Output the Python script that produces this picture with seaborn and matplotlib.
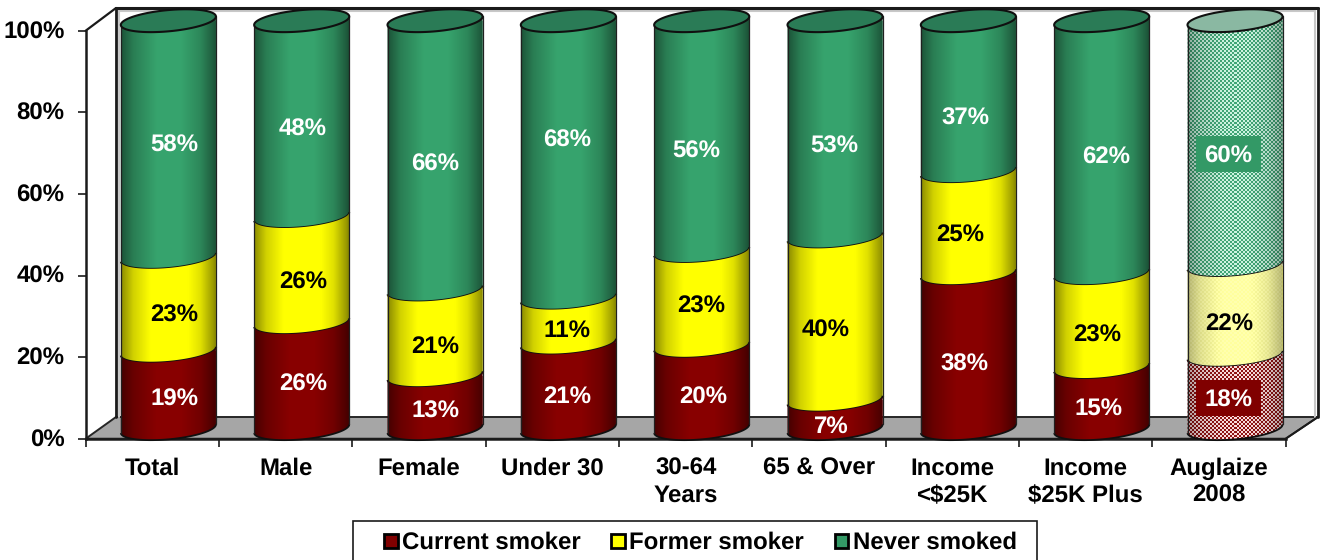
import numpy as np
import pandas as pd
import seaborn as sns
import matplotlib
matplotlib.use("Agg")
import matplotlib.pyplot as plt
from matplotlib.lines import Line2D
from matplotlib.patches import Patch, PathPatch, Polygon, Rectangle
from matplotlib.path import Path
from matplotlib.transforms import Affine2D, IdentityTransform, ScaledTranslation

GROUPS = ["Total", "Male", "Female", "Under 30", "30-64\nYears", "65 & Over",
          "Income\n<$25K", "Income\n$25K Plus", "Auglaize\n2008"]
CURRENT = [19, 26, 13, 21, 20, 7, 38, 15, 18]
FORMER = [23, 26, 21, 11, 23, 40, 25, 23, 22]
NEVER = [58, 48, 66, 68, 56, 53, 37, 62, 60]
SERIES = ["Current smoker", "Former smoker", "Never smoked"]
COLORS = ["#800000", "#FFFF00", "#339966"]
LABEL_COLORS = ["white", "black", "white"]

# Label anchors: height on the front scale and sideways nudge in pixels.
LABEL_Y = [[10.2, 13.8, 7.3, 11.0, 10.8, 3.5, 18.7, 8.1, 9.9],
           [30.9, 39.0, 23.1, 27.2, 32.9, 27.0, 50.5, 25.8, 28.9],
           [72.4, 76.5, 67.9, 73.6, 71.1, 72.3, 79.0, 69.4, 69.8]]
LABEL_DX = [[6, 1, 0, -1, 1, -4, -4, -3, -7],
            [6, 1, 0, -1, -1, -9, -8, -5, -6],
            [6, 1, 0, -1, -5, -1, -3, 4, -7]]

W, H = 1325, 560
sns.set_theme(style="white")
plt.rcParams["font.family"] = ["Liberation Sans", "DejaVu Sans"]
plt.rcParams["font.weight"] = "bold"
plt.rcParams["text.color"] = "black"
plt.rcParams["text.hinting"] = "no_hinting"
plt.rcParams["text.hinting_factor"] = 1
FS = 17.2

fig = plt.figure(figsize=(W / 100, H / 100), dpi=100, facecolor="white")
to_px = Affine2D().scale(1, -1).translate(0, H)  # y-down pixel coordinates

X0, X1, Y0, Y100 = 85.7, 1285.7, 438.7, 30.7
DEPTH_X, DEPTH_Y = 16, 10


def fig_rect(left, top, right, bottom):
    return [left / W, 1 - bottom / H, (right - left) / W, (bottom - top) / H]


ax = fig.add_axes(fig_rect(X0, Y100, X1, Y0))
ax.patch.set_visible(False)
ax.set_xlim(-0.5, 8.5)
ax.set_ylim(0, 100)

# Floor and back wall of the box.
floor = Polygon([(X0, Y0), (116, 417), (1318, 417), (X1, Y0)], closed=True,
                facecolor="#A6A6A6", edgecolor="#262626", lw=1.4,
                transform=to_px, clip_on=False, zorder=1)
ax.add_patch(floor)
for xs, ys, col, lw in [
    ([119, 119], [11, 417], "#C8C8C8", 1.5),
    ([119, 1315], [11, 11], "#C8C8C8", 1.5),
    ([1315, 1315], [11, 417], "#C8C8C8", 1.5),
    ([X0, 116], [Y100, 8], "#1A1A1A", 1.6),
    ([116, 116], [8, 417], "#1A1A1A", 2),
    ([116, 1318], [8, 8], "#1A1A1A", 2.2),
    ([1318, 1318], [8, 417], "#1A1A1A", 2),
    ([X1, 1318], [Y0, 417], "#1A1A1A", 1.4),
]:
    ax.add_line(Line2D(xs, ys, color=col, lw=lw, transform=to_px,
                       clip_on=False, zorder=2))

ax.set_xticks(np.arange(-0.5, 9), labels=[""] * 10)
ax.set_xticks(np.arange(9), labels=GROUPS, minor=True)
ax.set_yticks(range(0, 101, 20), labels=[f"{v}%" for v in range(0, 101, 20)])
ax.tick_params(axis="x", which="major", length=5.5, width=1.2, color="#1A1A1A",
               bottom=True)
ax.tick_params(axis="x", which="minor", length=0, pad=13.3, labelsize=FS,
               labelcolor="black", bottom=True)
ax.tick_params(axis="y", length=5.5, width=1.2, color="#1A1A1A", pad=9.7,
               labelsize=FS, labelcolor="black", left=True)
for lab in ax.get_xminorticklabels():
    lab.set_fontweight("bold")
    lab.set_linespacing(1.28)
raise_one = ScaledTranslation(0, 1 / 100, fig.dpi_scale_trans)
for lab in ax.get_yticklabels():
    lab.set_fontweight("bold")
    lab.set_transform(lab.get_transform() + raise_one)
for side in ("top", "right"):
    ax.spines[side].set_visible(False)
for side in ("left", "bottom"):
    ax.spines[side].set_color("#1A1A1A")
    ax.spines[side].set_linewidth(1.8)

# Bars sit on a plane pushed back into the box.
depth = fig.add_axes(fig_rect(X0 + DEPTH_X, Y100 - DEPTH_Y - 20.4,
                              X1 + DEPTH_X, Y0 - DEPTH_Y + 20.4))
depth.patch.set_visible(False)
depth.axis("off")

# 100% stacked: each group is rescaled to its own total.
values = np.array([CURRENT, FORMER, NEVER], dtype=float)
shares = values / values.sum(axis=0) * 100
tops = np.cumsum(shares, axis=0)
frame = pd.DataFrame({"group": GROUPS, **{s: tops[k] for k, s in enumerate(SERIES)}})

# Tallest stack first, so shorter stacks overlay it.
bars_by_series = {}
for k in (2, 1, 0):
    before = len(depth.patches)
    sns.barplot(data=frame, x="group", y=SERIES[k], color=COLORS[k], saturation=1,
                width=0.713, order=GROUPS, ax=depth, linewidth=0)
    bars_by_series[k] = list(depth.patches)[before:]
depth.set_xlim(-0.5, 8.5)
depth.set_ylim(-5, 105)
depth.axis("off")

THETA = np.radians(5.3)
MINOR = 10.6
TS = np.linspace(np.pi, 2 * np.pi, 60)


def ellipse_points(cx, cy, a, ts):
    x = cx + a * np.cos(ts) * np.cos(THETA) - MINOR * np.sin(ts) * np.sin(THETA)
    y = cy + a * np.cos(ts) * np.sin(THETA) + MINOR * np.sin(ts) * np.cos(THETA)
    return np.column_stack([x, y])


def shade_profile(n, strength=1.0):
    u = np.linspace(0, 1, n)
    f = np.interp(u, [0, 0.04, 0.14, 0.38, 0.62, 0.82, 0.94, 1],
                  [0.5, 0.6, 0.82, 1.07, 1.07, 0.88, 0.62, 0.45])
    return 1 - (1 - f) * strength


def rgb(hex_color):
    return np.array(matplotlib.colors.to_rgb(hex_color))


CHECK = {0: ("#F0D4D4", "#8A1414"), 1: ("#FFFFA8", "#F6F698"), 2: ("#C4EAD7", "#3F9F72")}
LID = {False: "#2A7B56", True: "#8AB8A2"}

for k in (2, 1, 0):
    for i, bar in enumerate(bars_by_series[k]):
        left = bar.get_x()
        right = left + bar.get_width()
        mid = left + bar.get_width() / 2
        upper = tops[k, i]
        lower = tops[k - 1, i] if k else 0.0
        (dl, _), (dr, _) = depth.transData.transform([(left, 0), (right, 0)])
        dcx = (dl + dr) / 2
        a = (dr - dl) / 2 / np.cos(THETA)
        dy_up = depth.transData.transform((mid, upper))[1]
        dy_lo = depth.transData.transform((mid, lower))[1]
        top_arc = ellipse_points(dcx, dy_up, a, TS)
        low_arc = ellipse_points(dcx, dy_lo, a, TS)
        outline = np.vstack([low_arc, top_arc[::-1], low_arc[:1]])
        seg_path = Path(outline, closed=True)
        bar.set_clip_path(seg_path, IdentityTransform())

        # Rounded shading, stippled for the comparison column.
        is_ref = i == len(GROUPS) - 1
        w_px = int(dr - dl) + 4
        y_span = upper - lower + 12
        h_px = int(y_span * 4.08) + 2
        prof = shade_profile(w_px, 0.6 if is_ref else 1.0)
        if is_ref:
            yy, xx = np.mgrid[0:h_px, 0:w_px]
            mask = ((xx // 2 + yy // 2) % 2 == 0)[..., None]
            img = np.where(mask, rgb(CHECK[k][0]), rgb(CHECK[k][1]))
        else:
            img = np.ones((h_px, w_px, 3)) * rgb(COLORS[k])
        img = np.clip(img * prof[None, :, None], 0, 1)
        px_w = depth.transData.inverted().transform((2, 0))[0] - \
            depth.transData.inverted().transform((0, 0))[0]
        im = depth.imshow(img, extent=(left - px_w, right + px_w, lower - 6, upper + 6),
                          aspect="auto", origin="upper", zorder=3 + 0.1 * (2 - k),
                          interpolation="nearest" if is_ref else "bilinear")
        im.set_clip_path(seg_path, IdentityTransform())

        # Seam along the front of the lower rim and the two silhouette edges.
        z = 3.05 + 0.1 * (2 - k)
        depth.add_patch(PathPatch(Path(low_arc), fill=False, edgecolor="#101010",
                                  lw=1.3, transform=IdentityTransform(),
                                  zorder=z, clip_on=False))
        for idx in (0, -1):
            depth.add_line(Line2D([low_arc[idx, 0], top_arc[idx, 0]],
                                  [low_arc[idx, 1], top_arc[idx, 1]],
                                  color="#202020", lw=0.9, transform=IdentityTransform(),
                                  zorder=z, clip_on=False))
        if k == 2:
            ring = ellipse_points(dcx, dy_up, a, np.linspace(0, 2 * np.pi, 120))
            depth.add_patch(PathPatch(Path(ring, closed=True), facecolor=LID[is_ref],
                                      edgecolor="#101010", lw=1.5,
                                      transform=IdentityTransform(), zorder=3.5,
                                      clip_on=False))

depth.set_xlim(-0.5, 8.5)
depth.set_ylim(-5, 105)

# Value labels; the comparison column gets solid plates behind the white text.
for k in range(3):
    for i in range(len(GROUPS)):
        x = i + (DEPTH_X + LABEL_DX[k][i]) / 133.33
        if i == len(GROUPS) - 1 and k != 1:
            px, py = ax.transData.transform((x, LABEL_Y[k][i]))
            depth.add_patch(Rectangle((px - 32.5, py - 18), 65, 36, facecolor=COLORS[k],
                                      edgecolor="none", transform=IdentityTransform(),
                                      zorder=4, clip_on=False))
        depth.text(x, LABEL_Y[k][i], f"{int(values[k, i])}%", transform=ax.transData,
                   ha="center", va="center_baseline", color=LABEL_COLORS[k], fontsize=FS,
                   fontweight="bold", zorder=5)

# Legend box runs off the bottom edge of the figure.
fig.add_artist(Rectangle((352.5, 520.5), 684.5, 42, facecolor="white", edgecolor="#1A1A1A",
                         lw=1.2, transform=to_px))
handles = [Patch(facecolor=c, edgecolor="black", lw=2) for c in COLORS]
leg = fig.legend(handles, SERIES, ncol=3, loc="center left",
                 bbox_to_anchor=(384 / W, 1 - 543 / H), bbox_transform=fig.transFigure,
                 frameon=False, fontsize=17, handlelength=0.58, handleheight=0.58,
                 handletextpad=0.18, columnspacing=1.3, borderpad=0, borderaxespad=0)
for t in leg.get_texts():
    t.set_fontweight("bold")
    t.set_color("black")

fig.savefig("out.png", dpi=100, facecolor="white")
